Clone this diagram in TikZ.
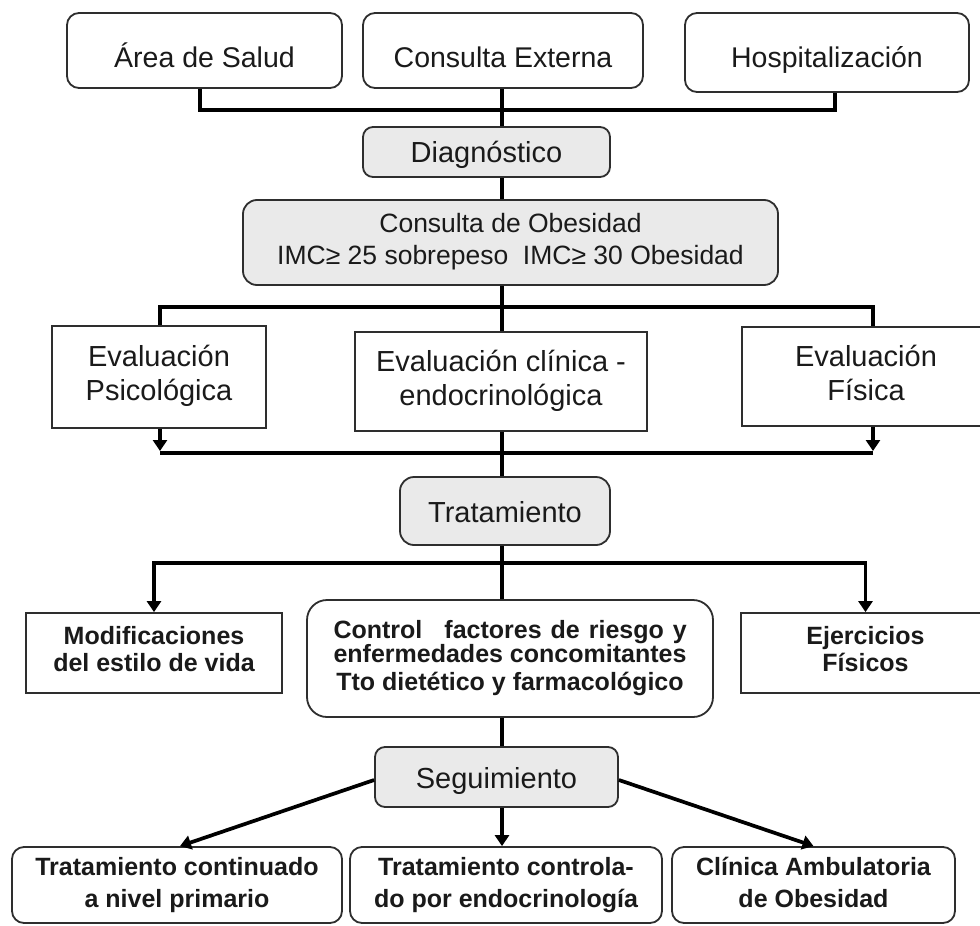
\documentclass[tikz,border=0pt]{standalone}
\usepackage{fontspec}
\setmainfont{Liberation Sans}
\usetikzlibrary{arrows.meta}
\definecolor{bdr}{HTML}{2E2E2E}
\definecolor{txt}{HTML}{1A1A1A}
\definecolor{gfill}{HTML}{EAEAEA}
\newsavebox\ctrlwidthbox
\newcommand\fsTop{\fontsize{28.5}{34}\selectfont}
\newcommand\fsObes{\fontsize{26.5}{32}\selectfont}
\newcommand\fsEval{\fontsize{29}{34}\selectfont}
\newcommand\fsModif{\fontsize{25}{27}\selectfont\bfseries}
\newcommand\fsCtrl{\fontsize{25}{24}\selectfont\bfseries}
\newcommand\fsBot{\fontsize{25}{32}\selectfont\bfseries}
\begin{document}
\begin{tikzpicture}[x=1pt,y=-1pt,
  box/.style={draw=bdr, line width=1.8pt, text=txt, align=center, inner sep=0pt},
  rbox/.style={box, rounded corners=12pt},
  gbox/.style={rbox, fill=gfill, rounded corners=10pt},
  drop/.style={text height=#1, text depth=0pt},
  conn/.style={draw=black, line width=3.7pt, line join=miter},
  arr/.style={conn, -{Triangle[width=14pt,length=11pt]}}]
\useasboundingbox (0,0) rectangle (980,926);
\fill[white] (0,0) rectangle (980,926);
% top row
\node[rbox, minimum width=275, minimum height=75, font=\fsTop, drop=33pt] (area) at (204.5,50.5) {Área de Salud};
\node[rbox, minimum width=280, minimum height=75, font=\fsTop, drop=33pt] (cext) at (503,50.5) {Consulta Externa};
\node[rbox, minimum width=284, minimum height=79, font=\fsTop, drop=30pt] (hosp) at (827,52.5) {Hospitalización};
% diagnosis
\node[gbox, minimum width=247, minimum height=50, font=\fsEval, drop=20pt] (diag) at (486.5,152) {Diagnóstico};
\node[gbox, minimum width=535, minimum height=85, font=\fsObes, rounded corners=14pt] (obes) at (510.5,242.5) {\strut Consulta de Obesidad\\\strut IMC≥ 25 sobrepeso\ \ IMC≥ 30 Obesidad};
% evaluations
\node[box, minimum width=214, minimum height=102, font=\fsEval] (evpsi) at (159,377) {\strut Evaluación\\\strut Psicológica};
\node[box, minimum width=292, minimum height=99, font=\fsEval] (evcli) at (501,381.5) {\strut Evaluación clínica -\\\strut endocrinológica};
\node[box, minimum width=248, minimum height=99, font=\fsEval] (evfis) at (866,376.5) {\strut Evaluación\\\strut Física};
% treatment
\node[gbox, minimum width=210, minimum height=68, font=\fsEval, rounded corners=14pt, drop=22pt] (trat) at (505,511) {Tratamiento};
\node[box, minimum width=256, minimum height=80, font=\fsModif] (modif) at (154,653) {\strut Modificaciones\\\strut del estilo de vida};
\node[rbox, minimum width=406, minimum height=117, font=\fsCtrl, rounded corners=20pt] (ctrl) at (510,658.5)
  {\sbox\ctrlwidthbox{enfermedades concomitantes}\makebox[\wd\ctrlwidthbox][s]{Control\hspace{22pt plus 1fil}factores\hspace{9pt}de\hspace{9pt}riesgo\hspace{9pt}y}\\enfermedades concomitantes\\[4pt]Tto dietético y farmacológico};
\node[box, minimum width=249, minimum height=80, font=\fsModif] (ejerc) at (865.5,653) {\strut Ejercicios\\\strut Físicos};
% follow-up
\node[gbox, minimum width=243, minimum height=60, font=\fsEval, drop=22pt] (segu) at (496.5,777) {Seguimiento};
\node[rbox, minimum width=330, minimum height=76, font=\fsBot] (tc) at (177,885) {\strut Tratamiento continuado\\\strut a nivel primario};
\node[rbox, minimum width=312, minimum height=76, font=\fsBot] (tctrl) at (506,885) {\strut Tratamiento controla-\\\strut do por endocrinología};
\node[rbox, minimum width=283, minimum height=76, font=\fsBot] (clin) at (813.5,885) {\strut Clínica Ambulatoria\\\strut de Obesidad};
% junction coordinates
\coordinate (j1) at (502,110);
\coordinate (j2) at (502,307);
\coordinate (j3) at (502,453);
\coordinate (j4) at (502,563);
% top connectors
\draw[conn] ([xshift=-4.5pt]area.south) |- (j1) -| ([xshift=8pt]hosp.south);
\draw[conn] (cext.south -| j1) -- (diag.north -| j1);
\draw[conn] (diag.south -| j1) -- (obes.north -| j1);
\draw[conn] (obes.south -| j2) -- (j2);
\draw[conn] ([xshift=1pt]evpsi.north) |- (j2) -| ([xshift=7pt]evfis.north);
\draw[conn] (j2) -- (evcli.north -| j2);
% evaluation to treatment
\draw[arr] ([xshift=1pt]evpsi.south) -- ([xshift=1pt,yshift=2pt]evpsi.south |- j3);
\draw[arr] ([xshift=7pt]evfis.south) -- ([xshift=7pt,yshift=2pt]evfis.south |- j3);
\draw[conn] ([xshift=1pt]evpsi.south |- j3) -- ([xshift=7pt]evfis.south |- j3);
\draw[conn] (evcli.south -| j3) -- (trat.north -| j3);
% treatment branches
\draw[conn] (trat.south -| j4) -- (ctrl.north -| j4);
\draw[arr] (j4) -| (modif.north);
\draw[arr] (j4) -| (ejerc.north);
\draw[conn] (ctrl.south -| j4) -- (segu.north -| j4);
% follow-up branches
\draw[arr] ([yshift=-3pt]segu.west) -- ([xshift=3pt]tc.north);
\draw[arr] (segu.south -| j4) -- (tctrl.north -| j4);
\draw[arr] ([yshift=-3pt]segu.east) -- (clin.north);
\end{tikzpicture}
\end{document}
